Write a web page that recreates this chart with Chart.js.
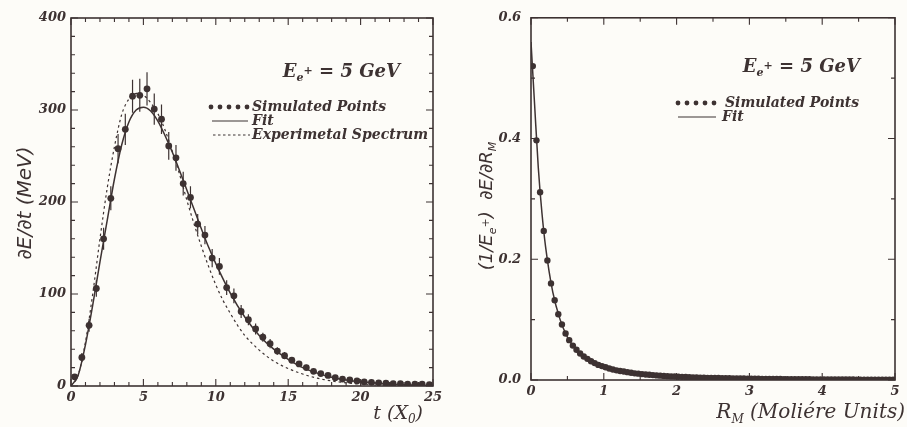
<!DOCTYPE html>
<html>
<head>
<meta charset="utf-8">
<script src="https://cdn.jsdelivr.net/npm/chart.js@4.4.1/dist/chart.umd.min.js"></script>
<style>
  body { margin: 0; background: #fdfcf8; }
  #wrap { position: relative; width: 907px; height: 427px; }
  #left { position: absolute; left: 0; top: 0; }
  #right { position: absolute; left: 453px; top: 0; }
</style>
</head>
<body>
<div id="wrap">
  <canvas id="left" width="453" height="427"></canvas>
  <canvas id="right" width="454" height="427"></canvas>
</div>
<script>
const INK = '#3d3232';

// ---- left panel: longitudinal profile dE/dt vs t (X0)
const simT = [0.25, 0.75, 1.25, 1.75, 2.25, 2.75, 3.25, 3.75, 4.25, 4.75,
              5.25, 5.75, 6.25, 6.75, 7.25, 7.75, 8.25, 8.75, 9.25, 9.75,
              10.25, 10.75, 11.25, 11.75, 12.25, 12.75, 13.25, 13.75, 14.25, 14.75,
              15.25, 15.75, 16.25, 16.75, 17.25, 17.75, 18.25, 18.75, 19.25, 19.75,
              20.25, 20.75, 21.25, 21.75, 22.25, 22.75, 23.25, 23.75, 24.25, 24.75];
const simE = [10, 31, 66, 106, 160, 204, 258, 279, 315, 316,
              323, 301, 290, 261, 248, 220, 205, 176, 164, 139,
              130, 107, 98, 81, 72, 62, 53, 46, 38, 33,
              28, 24, 20, 16, 13.5, 11.5, 9, 7.5, 6.5, 5.5,
              4.5, 4, 3.5, 3, 2.5, 2.5, 2, 2, 2, 1.5];
const simErr = [3, 5, 7, 9, 12, 13, 16, 17, 18, 18,
                18, 17, 16, 15, 14, 13, 12, 11, 10, 10,
                9, 8, 8, 7, 6, 6, 5, 5, 4, 4,
                3, 3, 3, 2, 2, 2, 2, 1, 1, 1,
                1, 1, 1, 1, 1, 1, 1, 1, 1, 1];
const fitT = [0, 0.5, 1, 1.5, 2, 2.5, 3, 3.5, 4, 4.5, 5, 5.5, 6, 6.5, 7, 7.5, 8, 8.5, 9, 9.5,
              10, 11, 12, 13, 14, 15, 16, 17, 18, 19, 20, 22, 25];
const fitE = [0, 12, 45, 88, 135, 180, 225, 262, 287, 300, 303, 299, 288, 272, 254, 234, 213, 192, 171, 151,
              133, 101, 75, 55, 40, 29, 20, 14, 9.5, 6.5, 4.5, 2, 0.5];
const expT = [0, 0.5, 1, 1.5, 2, 2.5, 3, 3.5, 4, 4.5, 5, 5.5, 6, 6.5, 7, 7.5, 8, 8.5, 9, 9.5,
              10, 10.5, 11, 11.5, 12, 13, 14, 15, 16, 17, 18, 19, 20, 22, 25];
const expE = [0, 12, 48, 100, 160, 215, 260, 295, 312, 318, 316, 308, 296, 278, 255, 230, 202, 176, 152, 130,
              110, 93, 79, 66, 55, 39, 27, 19, 13, 8.5, 5.5, 3.5, 2.2, 1, 0.3];
const tTicks = [0, 5, 10, 15, 20, 25];
const eTicks = [0, 100, 200, 300, 400];

// ---- right panel: lateral profile vs R_M
const simR = [0.025, 0.075, 0.125, 0.175, 0.225, 0.275, 0.325, 0.375, 0.425, 0.475,
              0.525, 0.575, 0.625, 0.675, 0.725, 0.775, 0.825, 0.875, 0.925, 0.975,
              1.025, 1.075, 1.125, 1.175, 1.225, 1.275, 1.325, 1.375, 1.425, 1.475,
              1.525, 1.575, 1.625, 1.675, 1.725, 1.775, 1.825, 1.875, 1.925, 1.975,
              2.025, 2.075, 2.125, 2.175, 2.225, 2.275, 2.325, 2.375, 2.425, 2.475,
              2.525, 2.575, 2.625, 2.675, 2.725, 2.775, 2.825, 2.875, 2.925, 2.975,
              3.025, 3.075, 3.125, 3.175, 3.225, 3.275, 3.325, 3.375, 3.425, 3.475,
              3.525, 3.575, 3.625, 3.675, 3.725, 3.775, 3.825, 3.875, 3.925, 3.975,
              4.025, 4.075, 4.125, 4.175, 4.225, 4.275, 4.325, 4.375, 4.425, 4.475,
              4.525, 4.575, 4.625, 4.675, 4.725, 4.775, 4.825, 4.875, 4.925, 4.975];
const simF = [0.52, 0.397, 0.311, 0.247, 0.198, 0.160, 0.132, 0.109, 0.092, 0.077,
              0.066, 0.057, 0.050, 0.044, 0.039, 0.035, 0.031, 0.028, 0.025, 0.023,
              0.021, 0.019, 0.0175, 0.016, 0.015, 0.014, 0.013, 0.012, 0.011, 0.0105,
              0.0098, 0.0092, 0.0086, 0.0081, 0.0076, 0.0072, 0.0068, 0.0064, 0.0060, 0.0057,
              0.0054, 0.0051, 0.0049, 0.0046, 0.0044, 0.0042, 0.0040, 0.0038, 0.0036, 0.0035,
              0.0033, 0.0032, 0.0030, 0.0029, 0.0028, 0.0027, 0.0026, 0.0025, 0.0024, 0.0023,
              0.0022, 0.0021, 0.0020, 0.0019, 0.0019, 0.0018, 0.0017, 0.0017, 0.0016, 0.0015,
              0.0015, 0.0014, 0.0014, 0.0013, 0.0013, 0.0012, 0.0012, 0.0011, 0.0011, 0.0011,
              0.0010, 0.0010, 0.0009, 0.0009, 0.0009, 0.0008, 0.0008, 0.0008, 0.0008, 0.0007,
              0.0007, 0.0007, 0.0007, 0.0006, 0.0006, 0.0006, 0.0006, 0.0006, 0.0005, 0.0005];
const fitR = [0, 0.05, 0.1, 0.15, 0.2, 0.3, 0.4, 0.5, 0.6, 0.8, 1.0, 1.5, 2, 3, 4, 5];
const fitF = [0.56, 0.455, 0.352, 0.277, 0.221, 0.145, 0.100, 0.071, 0.053, 0.033, 0.022, 0.0097, 0.0055, 0.0023, 0.0011, 0.0005];
const rTicks = [0, 1, 2, 3, 4, 5];
const fTicks = [0, 0.2, 0.4, 0.6];

const pts = (xs, ys) => xs.map((x, i) => ({x: x, y: ys[i]}));

function drawRich(ctx, it) {
    const base = it.size;
    const fontOf = lvl => `${it.style || 'italic'} ${it.weight || 'normal'} ${lvl ? Math.round(base * 0.62) : base}px ${it.family}`;
    let w = 0;
    it.parts.forEach(p => { ctx.font = fontOf(p[1] || 0); w += ctx.measureText(p[0]).width; });
    ctx.save();
    ctx.translate(it.x, it.y);
    if (it.rotate) ctx.rotate(it.rotate);
    let cx = it.align === 'right' ? -w : it.align === 'center' ? -w / 2 : 0;
    ctx.textBaseline = 'middle';
    ctx.fillStyle = INK;
    it.parts.forEach(p => {
        const lvl = p[1] || 0;
        ctx.font = fontOf(lvl);
        const dy = lvl === 1 ? base * 0.32 : lvl === 2 ? -base * 0.05 : 0;
        ctx.fillText(p[0], cx, dy);
        cx += ctx.measureText(p[0]).width;
    });
    ctx.restore();
}

// box frame with inward ticks on all four sides
const framePlugin = {
    id: 'frame',
    afterDraw(chart, args, o) {
        const {ctx, chartArea: a, scales: {x, y}} = chart;
        ctx.save();
        ctx.strokeStyle = INK;
        ctx.lineWidth = 1.6;
        ctx.strokeRect(a.left, a.top, a.right - a.left, a.bottom - a.top);
        ctx.lineWidth = 1.1;
        ctx.beginPath();
        const isMajor = (v, step) => Math.abs(v / step - Math.round(v / step)) < 1e-6;
        for (let v = x.min; v <= x.max + 1e-9; v += o.xMinor) {
            const px = x.getPixelForValue(v), len = isMajor(v, o.xMajor) ? 7 : 4;
            ctx.moveTo(px, a.bottom); ctx.lineTo(px, a.bottom - len);
            ctx.moveTo(px, a.top); ctx.lineTo(px, a.top + len);
        }
        for (let v = y.min; v <= y.max + 1e-9; v += o.yMinor) {
            const py = y.getPixelForValue(v), len = isMajor(v, o.yMajor) ? 7 : 4;
            ctx.moveTo(a.left, py); ctx.lineTo(a.left + len, py);
            ctx.moveTo(a.right, py); ctx.lineTo(a.right - len, py);
        }
        ctx.stroke();
        ctx.restore();
    }
};

const errPlugin = {
    id: 'errbars',
    afterDatasetsDraw(chart, args, o) {
        if (!o.errors) return;
        const {ctx, scales: {x, y}} = chart;
        ctx.save();
        ctx.strokeStyle = INK;
        ctx.lineWidth = 1.2;
        ctx.beginPath();
        o.xs.forEach((v, i) => {
            const px = x.getPixelForValue(v);
            ctx.moveTo(px, y.getPixelForValue(o.ys[i] - o.errors[i]));
            ctx.lineTo(px, y.getPixelForValue(o.ys[i] + o.errors[i]));
        });
        ctx.stroke();
        ctx.restore();
    }
};

// titles, energy label and the legend drawn inside the box
const notePlugin = {
    id: 'notes',
    afterDraw(chart, args, o) {
        const ctx = chart.ctx;
        o.texts.forEach(t => drawRich(ctx, t));
        ctx.save();
        ctx.strokeStyle = INK;
        ctx.fillStyle = INK;
        o.keys.forEach(k => {
            if (k.kind === 'dots') {
                for (let i = 0; i < 5; i++) {
                    ctx.beginPath();
                    ctx.arc(k.x0 + 3 + i * (k.x1 - k.x0 - 6) / 4, k.y, 2.4, 0, Math.PI * 2);
                    ctx.fill();
                }
            } else {
                ctx.lineWidth = 1.2;
                ctx.setLineDash(k.kind === 'dash' ? [2.5, 2.5] : []);
                ctx.beginPath();
                ctx.moveTo(k.x0, k.y); ctx.lineTo(k.x1, k.y);
                ctx.stroke();
            }
            drawRich(ctx, {parts: [[k.label]], x: k.tx, y: k.y, size: 14, weight: 'bold', family: '"DejaVu Serif"'});
        });
        ctx.setLineDash([]);
        ctx.restore();
    }
};

Chart.defaults.font.family = '"DejaVu Serif"';
Chart.defaults.color = INK;

function axis(ticks, fmt, side, size, pad) {
    return {
        type: 'linear',
        min: ticks[0], max: ticks[ticks.length - 1],
        afterBuildTicks: s => { s.ticks = ticks.map(v => ({value: v})); },
        afterFit: s => { if (side === 'x') s.height = size; else s.width = size; },
        grid: {display: false, drawTicks: false},
        border: {display: false},
        ticks: {
            callback: fmt,
            padding: pad,
            font: {size: 13, style: 'italic', weight: 'bold'},
            color: INK,
            autoSkip: false,
            maxRotation: 0
        }
    };
}

const eeParts = [['E'], ['e', 1], ['+', 2], [' = 5 GeV']];

new Chart(document.getElementById('left'), {
    type: 'scatter',
    data: {
        datasets: [
            {type: 'line', data: pts(fitT, fitE), borderColor: INK, borderWidth: 1.5, pointRadius: 0,
             cubicInterpolationMode: 'monotone', fill: false},
            {type: 'line', data: pts(expT, expE), borderColor: INK, borderWidth: 1.2, borderDash: [2.5, 3],
             pointRadius: 0, cubicInterpolationMode: 'monotone', fill: false},
            {data: pts(simT, simE), pointRadius: 3.4, pointBackgroundColor: INK, pointBorderWidth: 0}
        ]
    },
    options: {
        responsive: false,
        animation: false,
        layout: {padding: {top: 18, right: 20, left: 0, bottom: 0}},
        scales: {
            x: axis(tTicks, v => String(v), 'x', 41, 4),
            y: axis(eTicks, v => String(v), 'y', 71, 5)
        },
        plugins: {
            legend: {display: false},
            tooltip: {enabled: false},
            frame: {xMajor: 5, xMinor: 1, yMajor: 100, yMinor: 20},
            errbars: {xs: simT, ys: simE, errors: simErr},
            notes: {
                texts: [
                    {parts: [['∂E/∂t (MeV)']], x: 26, y: 203, size: 20, family: '"DejaVu Sans"',
                     align: 'center', rotate: -Math.PI / 2},
                    {parts: [['t (X'], ['0', 1], [')']], x: 423, y: 414, size: 19, family: '"DejaVu Serif"', align: 'right'},
                    {parts: eeParts, x: 400, y: 72, size: 18, weight: 'bold', family: '"DejaVu Serif"', align: 'right'}
                ],
                keys: [
                    {kind: 'dots', x0: 208, x1: 250, y: 107, tx: 252, label: 'Simulated Points'},
                    {kind: 'line', x0: 212, x1: 248, y: 121, tx: 252, label: 'Fit'},
                    {kind: 'dash', x0: 213, x1: 250, y: 135, tx: 252, label: 'Experimetal Spectrum'}
                ]
            }
        }
    },
    plugins: [framePlugin, errPlugin, notePlugin]
});

new Chart(document.getElementById('right'), {
    type: 'scatter',
    data: {
        datasets: [
            {type: 'line', data: pts(fitR, fitF), borderColor: INK, borderWidth: 1.5, pointRadius: 0,
             cubicInterpolationMode: 'monotone', fill: false},
            {data: pts(simR, simF), pointRadius: 3.2, pointBackgroundColor: INK, pointBorderWidth: 0}
        ]
    },
    options: {
        responsive: false,
        animation: false,
        layout: {padding: {top: 15, right: 12, left: 0, bottom: 0}},
        scales: {
            x: axis(rTicks, v => String(v), 'x', 47, 4),
            y: axis(fTicks, v => v.toFixed(1), 'y', 78, 10)
        },
        plugins: {
            legend: {display: false},
            tooltip: {enabled: false},
            frame: {xMajor: 1, xMinor: 0.5, yMajor: 0.2, yMinor: 0.1},
            errbars: {},
            notes: {
                texts: [
                    {parts: [['(1/E'], ['e', 1], ['+', 2], [')  ∂E/∂R'], ['M', 1]], x: 34, y: 206, size: 18,
                     family: '"DejaVu Sans"', align: 'center', rotate: -Math.PI / 2},
                    {parts: [['R'], ['M', 1], [' (Moliére Units)']], x: 452, y: 413, size: 20, family: '"DejaVu Serif"', align: 'right'},
                    {parts: eeParts, x: 407, y: 67, size: 18, weight: 'bold', family: '"DejaVu Serif"', align: 'right'}
                ],
                keys: [
                    {kind: 'dots', x0: 222, x1: 264, y: 103, tx: 272, label: 'Simulated Points'},
                    {kind: 'line', x0: 225, x1: 263, y: 117, tx: 269, label: 'Fit'}
                ]
            }
        }
    },
    plugins: [framePlugin, errPlugin, notePlugin]
});
</script>
</body>
</html>
